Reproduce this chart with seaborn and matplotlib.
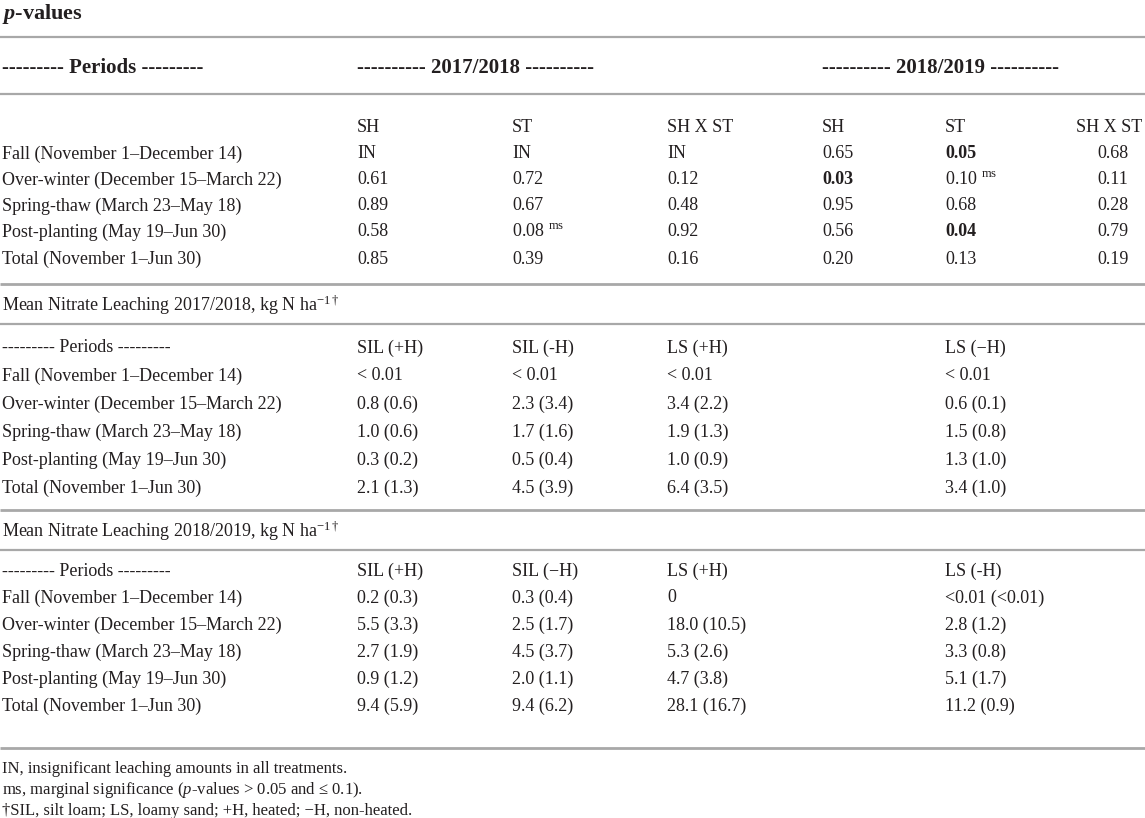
import matplotlib
matplotlib.use("Agg")
import matplotlib.pyplot as plt
import seaborn as sns

periods = ["Fall (November 1–December 14)", "Over-winter (December 15–March 22)",
           "Spring-thaw (March 23–May 18)", "Post-planting (May 19–Jun 30)",
           "Total (November 1–Jun 30)"]

p_cols = ["SH", "ST", "SH X ST", "SH", "ST", "SH X ST"]
p_sh_1718 = ["IN", "0.61", "0.89", "0.58", "0.85"]
p_st_1718 = ["IN", "0.72", "0.67", "0.08", "0.39"]
p_shst_1718 = ["IN", "0.12", "0.48", "0.92", "0.16"]
p_sh_1819 = ["0.65", "0.03", "0.95", "0.56", "0.20"]
p_st_1819 = ["0.05", "0.10", "0.68", "0.04", "0.13"]
p_shst_1819 = ["0.68", "0.11", "0.28", "0.79", "0.19"]

cols_1718 = ["SIL (+H)", "SIL (-H)", "LS (+H)", "LS (−H)"]
sil_h_1718 = ["< 0.01", "0.8 (0.6)", "1.0 (0.6)", "0.3 (0.2)", "2.1 (1.3)"]
sil_nh_1718 = ["< 0.01", "2.3 (3.4)", "1.7 (1.6)", "0.5 (0.4)", "4.5 (3.9)"]
ls_h_1718 = ["< 0.01", "3.4 (2.2)", "1.9 (1.3)", "1.0 (0.9)", "6.4 (3.5)"]
ls_nh_1718 = ["< 0.01", "0.6 (0.1)", "1.5 (0.8)", "1.3 (1.0)", "3.4 (1.0)"]

cols_1819 = ["SIL (+H)", "SIL (−H)", "LS (+H)", "LS (-H)"]
sil_h_1819 = ["0.2 (0.3)", "5.5 (3.3)", "2.7 (1.9)", "0.9 (1.2)", "9.4 (5.9)"]
sil_nh_1819 = ["0.3 (0.4)", "2.5 (1.7)", "4.5 (3.7)", "2.0 (1.1)", "9.4 (6.2)"]
ls_h_1819 = ["0", "18.0 (10.5)", "5.3 (2.6)", "4.7 (3.8)", "28.1 (16.7)"]
ls_nh_1819 = ["<0.01 (<0.01)", "2.8 (1.2)", "3.3 (0.8)", "5.1 (1.7)", "11.2 (0.9)"]

notes = ["IN, insignificant leaching amounts in all treatments.",
         "ms, marginal significance ($p$-values > 0.05 and ≤ 0.1).",
         "†SIL, silt loam; LS, loamy sand; +H, heated; −H, non-heated."]

# ---- styling ----
sns.set_theme(style="white")
plt.rcParams["font.family"] = ["Liberation Serif", "DejaVu Serif"]
plt.rcParams["mathtext.fontset"] = "custom"
plt.rcParams["mathtext.rm"] = "Liberation Serif"
plt.rcParams["mathtext.it"] = "Liberation Serif:italic"
plt.rcParams["mathtext.bf"] = "Liberation Serif:bold"
plt.rcParams["mathtext.bfit"] = "Liberation Serif:italic:bold"

ink = "#231f20"
rule = "#a8a8a8"
fs = 13
W, H = 1145, 818

fig = plt.figure(figsize=(W / 100, H / 100), dpi=100)
ax = fig.add_axes([0, 0, 1, 1])
ax.set_xlim(0, W)
ax.set_ylim(H, 0)
ax.axis("off")

x_lab = 2
x_p = [357, 512, 667, 822, 945, 1113]
x_n = [357, 512, 667, 945]


def txt(x, y, s, **kw):
    kw.setdefault("fontsize", fs)
    kw.setdefault("color", ink)
    kw.setdefault("va", "center")
    ax.text(x, y, s, **kw)


def hline(y, lw=1.6):
    ax.plot([0, W], [y, y], color=rule, lw=lw, solid_capstyle="butt")


# section 1: p-values
txt(x_lab, 14, r"$\mathbfit{p}$-values", fontsize=16, fontweight="bold")
hline(37)
txt(x_lab, 68, "--------- Periods ---------", fontsize=15, fontweight="bold")
txt(x_p[0], 68, "---------- 2017/2018 ----------", fontsize=15, fontweight="bold")
txt(x_p[3], 68, "---------- 2018/2019 ----------", fontsize=15, fontweight="bold")
hline(94)

y1 = [128, 154, 180, 206, 232, 259]
p_series = [p_sh_1718, p_st_1718, p_shst_1718, p_sh_1819, p_st_1819, p_shst_1819]
for j, name in enumerate(p_cols):
    if j == 5:
        txt(W - 3, y1[0], name, ha="right")
    else:
        txt(x_p[j], y1[0], name)
for i, per in enumerate(periods):
    txt(x_lab, y1[i + 1], per)
    for j, ser in enumerate(p_series):
        v = ser[i]
        ha = "center" if j == 5 else "left"
        weight = "normal"
        if v != "IN":
            pv = float(v)
            if pv <= 0.05:
                weight = "bold"
            elif pv <= 0.1:
                v = v + r" $^{\mathrm{ms}}$"
        txt(x_p[j], y1[i + 1], v, ha=ha, fontweight=weight)
hline(284, lw=2.0)


def leach_block(y_title, y_rule, ys, title, cols, series, y_end):
    txt(x_lab, y_title, title)
    hline(y_rule)
    txt(x_lab, ys[0], "--------- Periods ---------")
    for j, c in enumerate(cols):
        txt(x_n[j], ys[0], c)
    for i, per in enumerate(periods):
        txt(x_lab, ys[i + 1], per)
        for j, ser in enumerate(series):
            txt(x_n[j], ys[i + 1], ser[i])
    hline(y_end, lw=2.0)


leach_block(305, 324, [348, 376, 404, 432, 460, 488],
            r"Mean Nitrate Leaching 2017/2018, kg N ha$^{-1\dagger}$", cols_1718,
            [sil_h_1718, sil_nh_1718, ls_h_1718, ls_nh_1718], 510)
leach_block(531, 550, [571, 598, 625, 652, 679, 706],
            r"Mean Nitrate Leaching 2018/2019, kg N ha$^{-1\dagger}$", cols_1819,
            [sil_h_1819, sil_nh_1819, ls_h_1819, ls_nh_1819], 748)

for k, note in enumerate(notes):
    txt(x_lab, 769 + 21 * k, note, fontsize=12)

fig.savefig("out.png", dpi=100)
